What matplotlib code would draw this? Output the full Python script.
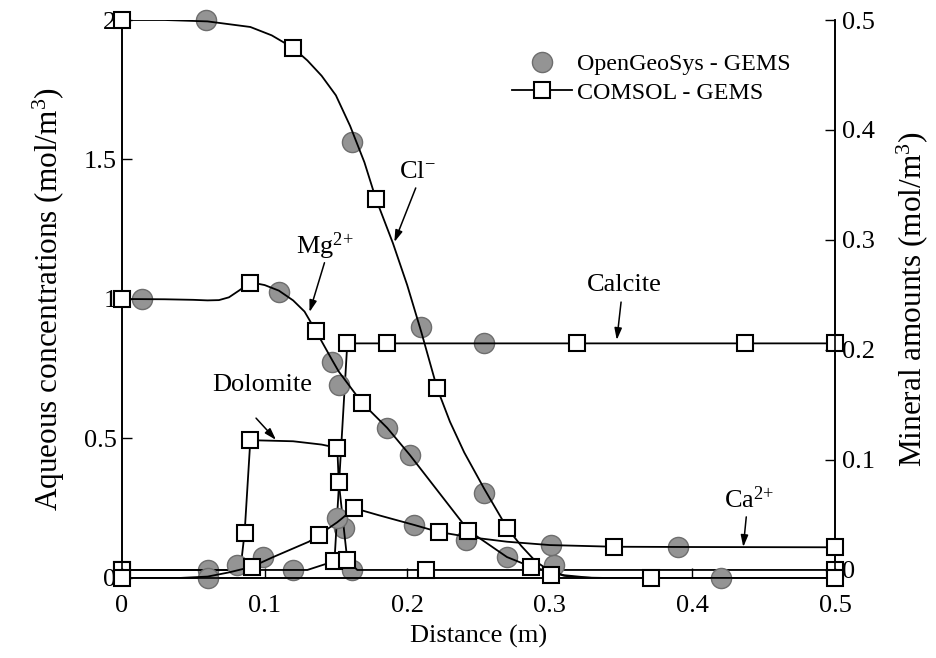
import matplotlib
matplotlib.use("Agg")
import matplotlib.pyplot as plt
from matplotlib.lines import Line2D

plt.rcParams['font.family'] = ['Liberation Serif', 'DejaVu Serif']
plt.rcParams['mathtext.fontset'] = 'custom'
plt.rcParams['mathtext.rm'] = 'Liberation Serif'
plt.rcParams['mathtext.it'] = 'Liberation Serif:italic'
plt.rcParams['mathtext.bf'] = 'Liberation Serif:bold'

# ---------------- data ----------------
# Aqueous species, left axis (mol/m3) -- COMSOL-GEMS lines
cl_line_x = [0, 0.03, 0.06, 0.09, 0.105, 0.12, 0.13, 0.14, 0.15, 0.16, 0.17, 0.178, 0.19, 0.2, 0.21,
             0.221, 0.23, 0.24, 0.254, 0.262, 0.27, 0.28, 0.29, 0.3, 0.31, 0.32, 0.34, 0.5]
cl_line_y = [2.0, 2.0, 1.995, 1.975, 1.945, 1.9, 1.855, 1.8, 1.73, 1.62, 1.49, 1.36, 1.2, 1.05, 0.88,
             0.68, 0.56, 0.45, 0.32, 0.25, 0.18, 0.115, 0.06, 0.025, 0.008, 0.002, 0.0, 0.0]
mg_line_x = [0, 0.03, 0.05, 0.06, 0.068, 0.075, 0.082, 0.0895, 0.095, 0.1, 0.11, 0.12, 0.128, 0.136,
             0.1475, 0.152, 0.1685, 0.186, 0.202, 0.243, 0.27, 0.287, 0.31, 0.33, 0.5]
mg_line_y = [1.0, 0.999, 0.997, 0.995, 0.996, 1.006, 1.03, 1.057, 1.055, 1.05, 1.03, 0.995, 0.955, 0.885,
             0.78, 0.74, 0.627, 0.538, 0.44, 0.17, 0.075, 0.04, 0.01, 0.0, 0.0]
ca_line_x = [0, 0.04, 0.06, 0.075, 0.091, 0.106, 0.131, 0.138, 0.151, 0.163, 0.18, 0.205, 0.222, 0.243, 0.27, 0.3, 0.345, 0.4, 0.5]
ca_line_y = [0.0, 0.0, 0.005, 0.02, 0.04, 0.075, 0.13, 0.154, 0.2, 0.25, 0.225, 0.19, 0.165, 0.147, 0.13, 0.118, 0.112, 0.111, 0.11]
# COMSOL-GEMS markers
cl_sq_x = [0, 0.12, 0.178, 0.221, 0.27, 0.301, 0.371, 0.5]
cl_sq_y = [2.0, 1.9, 1.36, 0.68, 0.18, 0.01, 0.0, 0.0]
mg_sq_x = [0, 0.0895, 0.136, 0.1685, 0.243, 0.287]
mg_sq_y = [1.0, 1.057, 0.885, 0.627, 0.17, 0.04]
ca_sq_x = [0, 0.091, 0.138, 0.163, 0.222, 0.345, 0.5]
ca_sq_y = [0.0, 0.04, 0.154, 0.25, 0.165, 0.111, 0.11]
# OpenGeoSys-GEMS points
cl_ogs_x = [0.059, 0.1615, 0.21, 0.254, 0.303, 0.42]
cl_ogs_y = [2.0, 1.563, 0.9, 0.305, 0.047, 0.0]
mg_ogs_x = [0.014, 0.11, 0.1475, 0.152, 0.186, 0.202, 0.27]
mg_ogs_y = [1.0, 1.025, 0.774, 0.692, 0.538, 0.44, 0.075]
ca_ogs_x = [0.06, 0.081, 0.099, 0.151, 0.205, 0.241, 0.301, 0.39]
ca_ogs_y = [0.0, 0.045, 0.075, 0.215, 0.19, 0.136, 0.118, 0.111]

# Minerals, right axis (mol/m3)
calcite_line_x = [0, 0.13, 0.149, 0.158, 0.2, 0.5]
calcite_line_y = [0.0, 0.0, 0.008, 0.206, 0.206, 0.206]
dolomite_line_x = [0, 0.083, 0.086, 0.09, 0.12, 0.14, 0.151, 0.152, 0.158, 0.165, 0.5]
dolomite_line_y = [0.0, 0.0, 0.034, 0.118, 0.117, 0.114, 0.111, 0.08, 0.009, 0.0, 0.0]
calcite_sq_x = [0, 0.149, 0.158, 0.186, 0.319, 0.437, 0.5]
calcite_sq_y = [0.0, 0.008, 0.206, 0.206, 0.206, 0.206, 0.206]
dolomite_sq_x = [0, 0.086, 0.09, 0.151, 0.152, 0.158, 0.213, 0.5]
dolomite_sq_y = [0.0, 0.034, 0.118, 0.111, 0.08, 0.009, 0.0, 0.0]
calcite_ogs_x = [0.06, 0.12, 0.254]
calcite_ogs_y = [0.0, 0.0, 0.206]
dolomite_ogs_x = [0.156, 0.161]
dolomite_ogs_y = [0.038, 0.0]

x_ticks = [0, 0.1, 0.2, 0.3, 0.4, 0.5]
x_tick_labels = ['0', '0.1', '0.2', '0.3', '0.4', '0.5']
left_ticks = [0, 0.5, 1, 1.5, 2]
left_tick_labels = ['0', '0.5', '1', '1.5', '2']
right_ticks = [0, 0.1, 0.2, 0.3, 0.4, 0.5]
right_tick_labels = ['0', '0.1', '0.2', '0.3', '0.4', '0.5']

# ---------------- styling ----------------
FS = 19
YFS = 22.5
LW = 1.3
circ_kw = dict(linestyle='none', marker='o', markersize=14.5, markerfacecolor='#949494',
               markeredgecolor='#6e6e6e', markeredgewidth=1.0, zorder=2)
sq_kw = dict(linestyle='none', marker='s', markersize=11.5, markerfacecolor='white',
             markeredgecolor='black', markeredgewidth=1.5, zorder=4)
line_kw = dict(color='black', linewidth=LW, zorder=3)

fig = plt.figure(figsize=(9.37, 6.58), dpi=100)
ax = fig.add_axes([0.1302, 0.1216, 0.7609, 0.848])
ax2 = ax.twinx()
ax.set_zorder(ax2.get_zorder() + 1)
ax.patch.set_visible(False)

# left-axis species
for lx, ly in [(cl_line_x, cl_line_y), (mg_line_x, mg_line_y), (ca_line_x, ca_line_y)]:
    ax.plot(lx, ly, **line_kw)
for ox, oy in [(cl_ogs_x, cl_ogs_y), (mg_ogs_x, mg_ogs_y), (ca_ogs_x, ca_ogs_y)]:
    ax.plot(ox, oy, clip_on=False, **circ_kw)
for sx, sy in [(cl_sq_x, cl_sq_y), (mg_sq_x, mg_sq_y), (ca_sq_x, ca_sq_y)]:
    ax.plot(sx, sy, clip_on=False, **sq_kw)

# right-axis minerals
for lx, ly in [(calcite_line_x, calcite_line_y), (dolomite_line_x, dolomite_line_y)]:
    ax2.plot(lx, ly, **line_kw)
for ox, oy in [(calcite_ogs_x, calcite_ogs_y), (dolomite_ogs_x, dolomite_ogs_y)]:
    ax2.plot(ox, oy, clip_on=False, **circ_kw)
for sx, sy in [(calcite_sq_x, calcite_sq_y), (dolomite_sq_x, dolomite_sq_y)]:
    ax2.plot(sx, sy, clip_on=False, **sq_kw)

ax.set_xlim(0, 0.5)
ax.set_ylim(0, 2)
ax2.set_ylim(-0.0073, 0.5)

for a in (ax, ax2):
    a.spines['top'].set_visible(False)
    for s in a.spines.values():
        s.set_linewidth(1.2)

ax.set_xticks(x_ticks)
ax.set_xticklabels(x_tick_labels)
ax.set_yticks(left_ticks)
ax.set_yticklabels(left_tick_labels)
ax2.set_yticks(right_ticks)
ax2.set_yticklabels(right_tick_labels)
ax.tick_params(axis='both', direction='in', length=7, width=1, labelsize=FS, pad=4)
ax.tick_params(axis='x', pad=12)
ax2.tick_params(axis='y', direction='in', length=7, width=1, labelsize=FS, pad=5)

ax.set_xlabel('Distance (m)', fontsize=FS, labelpad=6)
ax.set_ylabel('Aqueous concentrations (mol/m$^3$)', fontsize=YFS, labelpad=12)
ax2.set_ylabel('Mineral amounts (mol/m$^3$)', fontsize=YFS, labelpad=14)

# annotations
arrow = dict(arrowstyle='-|>,head_length=0.7,head_width=0.22', color='black', lw=1.1,
             shrinkA=0, shrinkB=0)
ax.annotate('', xy=(0.191, 1.204), xytext=(0.206, 1.398), arrowprops=arrow)
ax.text(0.207, 1.455, 'Cl$^{{-}}$', fontsize=FS, ha='center', va='center')
ax.annotate('', xy=(0.1315, 0.953), xytext=(0.142, 1.13), arrowprops=arrow)
ax.text(0.142, 1.19, 'Mg$^{2{+}}$', fontsize=FS, ha='center', va='center')
ax.annotate('', xy=(0.108, 0.495), xytext=(0.094, 0.573), arrowprops=arrow)
ax.text(0.0986, 0.69, 'Dolomite', fontsize=FS, ha='center', va='center')
ax.annotate('', xy=(0.347, 0.853), xytext=(0.35, 0.989), arrowprops=arrow)
ax.text(0.352, 1.05, 'Calcite', fontsize=FS, ha='center', va='center')
ax.annotate('', xy=(0.4357, 0.111), xytext=(0.4378, 0.219), arrowprops=arrow)
ax.text(0.44, 0.28, 'Ca$^{2{+}}$', fontsize=FS, ha='center', va='center')

# legend
h1 = Line2D([], [], linestyle='none', marker='o', markersize=14.5, markerfacecolor='#949494',
            markeredgecolor='#6e6e6e', markeredgewidth=1.0)
h2 = Line2D([], [], color='black', linewidth=LW, marker='s', markersize=11.5,
            markerfacecolor='white', markeredgecolor='black', markeredgewidth=1.5)
ax.legend([h1, h2], ['OpenGeoSys - GEMS', 'COMSOL - GEMS'], loc='upper left',
          bbox_to_anchor=(0.547, 0.94), frameon=False, fontsize=17.3, handlelength=2.5,
          handletextpad=0.2, labelspacing=0.27, borderaxespad=0, borderpad=0)

fig.savefig('out.png', dpi=100)
